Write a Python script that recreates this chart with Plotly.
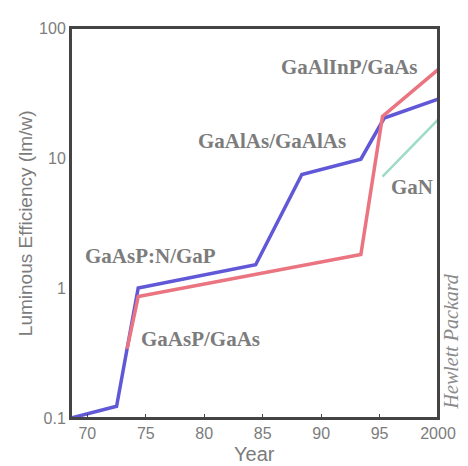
import plotly.graph_objects as go

# --- data ---
blue_years = [68.6, 72.5, 74.35, 84.4, 88.35, 93.4, 95.4, 100.0]
blue_vals = [0.1, 0.123, 1.0, 1.51, 7.47, 9.8, 20.3, 28.3]

red_years = [73.4, 74.35, 93.4, 95.25, 100.0]
red_vals = [0.34, 0.86, 1.81, 20.9, 47.8]

gan_years = [95.25, 100.0]
gan_vals = [7.2, 19.7]

tick_years = [70, 75, 80, 85, 90, 95, 100]
tick_labels = ["70", "75", "80", "85", "90", "95", "2000"]
ytick_vals = [0.1, 1, 10, 100]
ytick_labels = ["0.1", "1", "10", "100"]

labels = ["GaAlInP/GaAs", "GaAlAs/GaAlAs", "GaN", "GaAsP:N/GaP", "GaAsP/GaAs"]
label_x = [92.46, 85.81, 97.8, 75.43, 79.66]
label_logy = [1.699, 1.131, 0.778, 0.25, -0.394]

BLUE = "#6058d6"
RED = "#ea7480"
GREEN = "#9edbc8"
TXT = "#7c7c7c"
FRAME = "#444444"

fig = go.Figure()
fig.add_trace(go.Scatter(x=gan_years, y=gan_vals, mode="lines",
                         line=dict(color=GREEN, width=2.5), showlegend=False))
fig.add_trace(go.Scatter(x=blue_years, y=blue_vals, mode="lines",
                         line=dict(color=BLUE, width=3.5), showlegend=False))
fig.add_trace(go.Scatter(x=red_years, y=red_vals, mode="lines",
                         line=dict(color=RED, width=3.5), showlegend=False))

annotations = []
for t, x, y in zip(labels, label_x, label_logy):
    annotations.append(dict(x=x, y=y, xref="x", yref="y", text="<b>" + t + "</b>",
                            showarrow=False, xanchor="center", yanchor="middle",
                            font=dict(family="Liberation Serif", size=21, color=TXT)))
annotations.append(dict(x=1.036, y=0.197, xref="paper", yref="paper",
                        text="<i>Hewlett Packard</i>", textangle=-90, showarrow=False,
                        xanchor="center", yanchor="middle",
                        font=dict(family="Liberation Serif", size=20, color="#8a8a8a")))
annotations.append(dict(x=-0.125, y=0.5, xref="paper", yref="paper",
                        text="Luminous Efficiency (lm/w)", textangle=-90, showarrow=False,
                        xanchor="center", yanchor="middle",
                        font=dict(family="Liberation Sans", size=19, color=TXT)))
annotations.append(dict(x=0.5, y=-0.093, xref="paper", yref="paper",
                        text="Year", showarrow=False, xanchor="center", yanchor="middle",
                        font=dict(family="Liberation Sans", size=20, color=TXT)))

fig.update_layout(
    width=460, height=458,
    margin=dict(l=63, r=21, t=14, b=48),
    paper_bgcolor="white", plot_bgcolor="white",
    annotations=annotations,
    shapes=[dict(type="rect", xref="paper", yref="paper", x0=0, y0=0, x1=1, y1=1,
                 line=dict(color=FRAME, width=2), layer="above")],
    xaxis=dict(range=[68.6, 100], tickvals=tick_years, ticktext=tick_labels,
               showgrid=False, zeroline=False, showline=True, mirror=True,
               linecolor=FRAME, linewidth=2, ticks="inside", ticklen=4,
               tickcolor=FRAME, tickfont=dict(family="Liberation Sans", size=16, color=TXT)),
    yaxis=dict(type="log", range=[-1, 2], tickvals=ytick_vals, ticktext=ytick_labels,
               showgrid=False, zeroline=False, showline=True, mirror=True,
               linecolor=FRAME, linewidth=2, ticks="",
               tickfont=dict(family="Liberation Sans", size=16, color=TXT)),
)

fig.write_html("out.html")
